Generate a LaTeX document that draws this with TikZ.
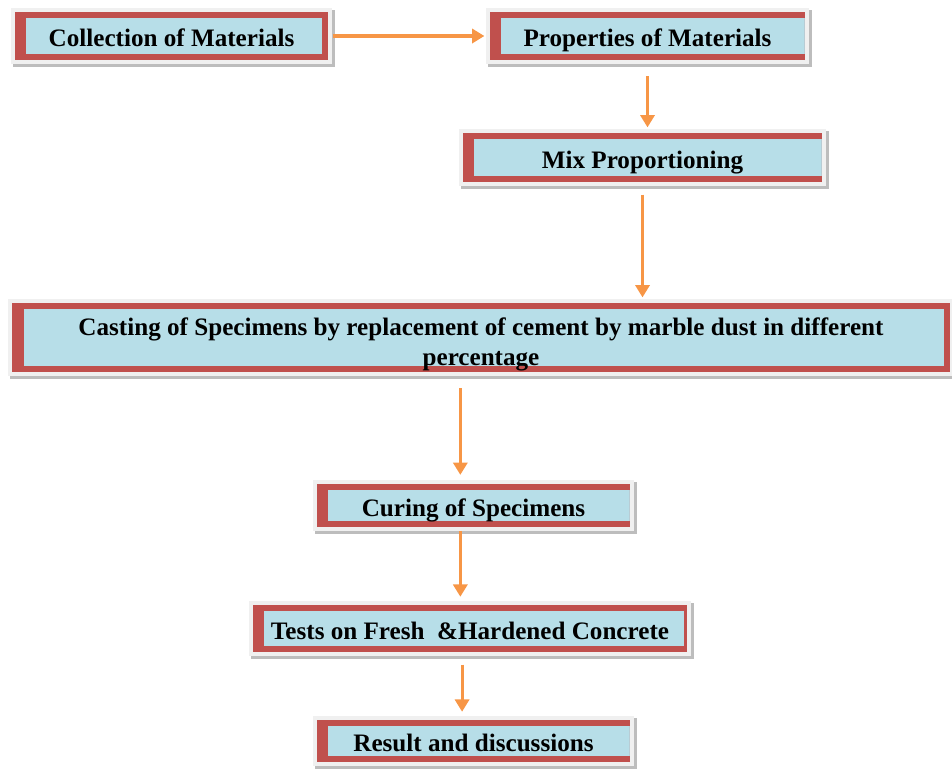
\documentclass[tikz,border=0pt]{standalone}
\usepackage{fontspec}
\setmainfont{Liberation Serif}
\usepackage{xcolor}
\usetikzlibrary{arrows.meta}
\definecolor{boxred}{HTML}{C0504D}
\definecolor{boxblue}{HTML}{B7DEE8}
\definecolor{frame-gray}{HTML}{F0F0F0}
\definecolor{shadow-gray}{HTML}{BDBDBD}
\definecolor{flow-orange}{HTML}{F79646}
\tikzset{
    flow-box/.style = {fill=boxblue, rectangle, inner sep=0pt, align=center, font=\bfseries\fontsize{14.3}{17.5}\selectfont,
        preaction={draw=shadow-gray, line width=5pt, transform canvas={shift={(1.5pt,-1.5pt)}}},
        preaction={draw=frame-gray, line width=5pt},
        path picture={
            \fill[boxred] (path picture bounding box.north west) rectangle ([xshift=6.5pt]path picture bounding box.south west);
            \fill[boxred] (path picture bounding box.north west) rectangle ([yshift=-3.4pt]path picture bounding box.north east);
            \fill[boxred] (path picture bounding box.south west) rectangle ([yshift=3.4pt]path picture bounding box.south east);
            \fill[boxred] (path picture bounding box.north east) rectangle ([xshift=-#1]path picture bounding box.south east);
        }},
    flow-box/.default = 0pt,
    low-text/.style = {text height=15pt, text depth=3pt},
    flow-arrow/.style = {draw=flow-orange, line width=1.8pt, -{Triangle[width=8pt,length=7pt]}},
}

\begin{document}
\begin{tikzpicture}[x=0.02cm, y=-0.02cm]
\useasboundingbox (0,0) rectangle (952,772);
\node[flow-box=3.4pt, low-text, minimum width=6.26cm, minimum height=0.96cm] (collect) at (171.5,36) {Collection of Materials};
\node[flow-box, low-text, minimum width=6.3cm, minimum height=0.96cm] (props) at (647.5,36) {Properties of Materials};
\node[flow-box, low-text, minimum width=7.18cm, minimum height=0.98cm] (mix) at (642.5,157.5) {Mix Proportioning};
\node[flow-box=3.4pt, minimum width=18.76cm, minimum height=1.38cm] (cast) at (481,337.5) {\rule{0pt}{18pt}Casting of Specimens by replacement of cement by marble dust in different\\percentage};
\node[flow-box, low-text, minimum width=6.26cm, minimum height=0.86cm] (cure) at (473.5,505.5) {Curing of Specimens};
\node[flow-box=1.5pt, low-text, minimum width=8.68cm, minimum height=0.94cm] (tests) at (470,628.5) {Tests on Fresh\ \ \&Hardened Concrete};
\node[flow-box, low-text, minimum width=6.26cm, minimum height=0.84cm] (result) at (473.5,741) {Result and discussions};

\draw[flow-arrow, shorten <=2.5pt, shorten >=3pt] (collect.east) -- (props.west);
\draw[flow-arrow, shorten <=9pt, shorten >=3pt] (props.south) -- (props.south |- mix.north);
\draw[flow-arrow, shorten <=7pt, shorten >=3pt] (mix.south) -- (mix.south |- cast.north);
\draw[flow-arrow, shorten <=9pt, shorten >=5pt] ([xshift=-7.5pt]cure.north |- cast.south) -- ([xshift=-7.5pt]cure.north);
\draw[flow-arrow, shorten <=2pt, shorten >=4.5pt] ([xshift=-7.5pt]cure.south) -- ([xshift=-7.5pt]cure.south |- tests.north);
\draw[flow-arrow, shorten <=7pt, shorten >=4.5pt] ([xshift=-6.5pt]result.north |- tests.south) -- ([xshift=-6.5pt]result.north);
\end{tikzpicture}
\end{document}
